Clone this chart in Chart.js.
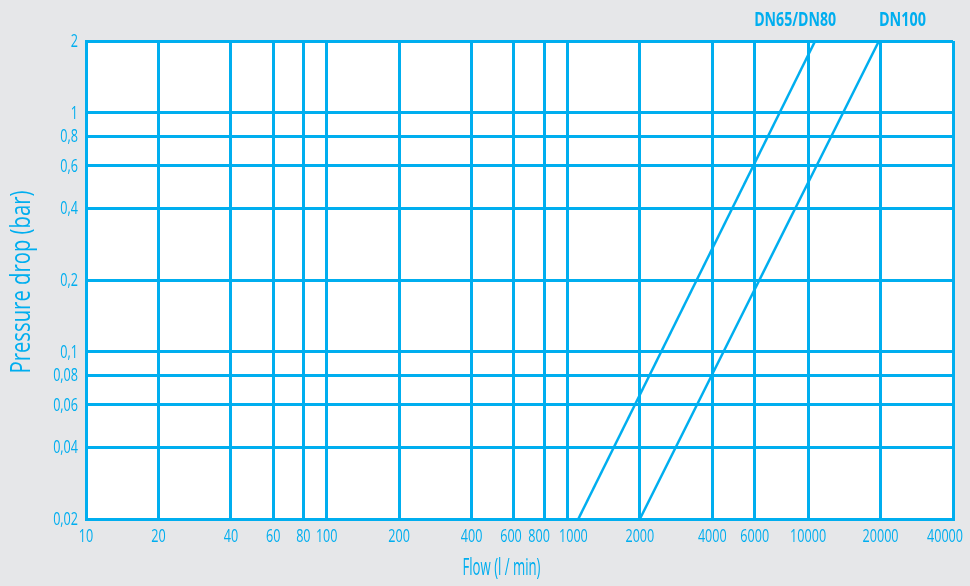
<!DOCTYPE html>
<html>
<head>
<meta charset="utf-8">
<script src="https://cdn.jsdelivr.net/npm/chart.js@4.4.1/dist/chart.umd.min.js"></script>
<style>
  html, body { margin: 0; padding: 0; background: #e6e7e9; }
  #wrap { width: 970px; height: 586px; }
</style>
</head>
<body>
<div id="wrap"><canvas id="chart" width="970" height="586"></canvas></div>
<script>
// tick values of the log grid
const flowTicks = [10, 20, 40, 60, 80, 100, 200, 400, 600, 800, 1000, 2000, 4000, 6000, 10000, 20000, 40000];
const dropTicks = [0.02, 0.04, 0.06, 0.08, 0.1, 0.2, 0.4, 0.6, 0.8, 1, 2];

// end points of each straight line (log-log)
const seriesNames = ['DN65/DN80', 'DN100'];
const flowDN65 = [1110, 10700];
const dropDN65 = [0.02, 2];
const flowDN100 = [2000, 19700];
const dropDN100 = [0.02, 2];

const BLUE = '#00aeef';
const FONT = "'Open Sans', 'Noto Sans', sans-serif";
const SX = 0.7; // the original face is a narrow one, squeeze the text

// small sideways nudges of crowded flow labels
const flowLabelNudge = { 600: -3, 800: -5, 1000: 6, 40000: -8 };

const toPoints = (xs, ys) => xs.map((x, i) => ({ x: x, y: ys[i] }));

function drawText(ctx, text, x, y, font, sx, align, baseline) {
    ctx.save();
    ctx.font = font;
    ctx.textAlign = align;
    ctx.textBaseline = baseline || 'middle';
    ctx.translate(x, y);
    ctx.scale(sx, 1);
    ctx.fillText(text, 0, 0);
    ctx.restore();
}

// squeeze a text so it gets the given width
function fitScale(ctx, text, font, width) {
    ctx.save();
    ctx.font = font;
    const w = ctx.measureText(text).width;
    ctx.restore();
    return width / w;
}

const decorPlugin = {
    id: 'decor',
    beforeDraw(chart) {
        const { ctx, chartArea: a } = chart;
        ctx.save();
        ctx.fillStyle = '#ffffff';
        ctx.fillRect(a.left, a.top, a.right - a.left, a.bottom - a.top);
        ctx.restore();
    },
    afterDraw(chart) {
        const { ctx, chartArea: a } = chart;
        const xs = chart.scales.x;
        const ys = chart.scales.y;
        ctx.save();
        ctx.fillStyle = BLUE;

        // tick labels
        const tickFont = "18px " + FONT;
        flowTicks.forEach(v => {
            const x = xs.getPixelForValue(v) + (flowLabelNudge[v] || 0);
            drawText(ctx, String(v), x, a.bottom + 18, tickFont, SX, 'center');
        });
        dropTicks.forEach(v => {
            const y = ys.getPixelForValue(v);
            drawText(ctx, String(v).replace('.', ','), a.left - 8, y + 1, tickFont, SX, 'right');
        });

        // x title
        const xFont = "24px " + FONT;
        const xt = 'Flow (l / min)';
        drawText(ctx, xt, (a.left + a.right) / 2 - 18, 575, xFont, fitScale(ctx, xt, xFont, 78), 'center', 'alphabetic');

        // y title
        const yFont = "28px " + FONT;
        const yt = 'Pressure drop (bar)';
        ctx.save();
        ctx.translate(30, (a.top + a.bottom) / 2 + 2);
        ctx.rotate(-Math.PI / 2);
        drawText(ctx, yt, 0, 0, yFont, fitScale(ctx, yt, yFont, 183), 'center', 'alphabetic');
        ctx.restore();

        // line names above the top ends
        const nFont = "bold 19.5px " + FONT;
        const top0 = chart.getDatasetMeta(0).data[1];
        const top1 = chart.getDatasetMeta(1).data[1];
        drawText(ctx, seriesNames[0], top0.x - 20, 26, nFont, fitScale(ctx, seriesNames[0], nFont, 82), 'center', 'alphabetic');
        drawText(ctx, seriesNames[1], top1.x, 26, nFont, fitScale(ctx, seriesNames[1], nFont, 47), 'left', 'alphabetic');
        ctx.restore();
    }
};

const ctx = document.getElementById('chart').getContext('2d');
new Chart(ctx, {
    type: 'scatter',
    data: {
        datasets: [
            {
                label: seriesNames[0],
                data: toPoints(flowDN65, dropDN65),
                showLine: true,
                borderColor: BLUE,
                borderWidth: 2.5,
                pointRadius: 0,
            },
            {
                label: seriesNames[1],
                data: toPoints(flowDN100, dropDN100),
                showLine: true,
                borderColor: BLUE,
                borderWidth: 2.5,
                pointRadius: 0,
            },
        ],
    },
    options: {
        responsive: false,
        animation: false,
        devicePixelRatio: 1,
        layout: { padding: { top: 41, right: 17, left: 0, bottom: 0 } },
        plugins: {
            legend: { display: false },
            tooltip: { enabled: false },
        },
        scales: {
            x: {
                type: 'logarithmic',
                min: 10,
                max: 40000,
                afterBuildTicks: (scale) => { scale.ticks = flowTicks.map(v => ({ value: v })); },
                afterFit: (scale) => {
                    scale.height = 67;
                    scale.paddingLeft = 0;
                    scale.paddingRight = 0;
                },
                grid: { color: BLUE, lineWidth: 3, drawTicks: false },
                border: { color: BLUE, width: 3 },
                ticks: { display: false, autoSkip: false },
            },
            y: {
                type: 'logarithmic',
                min: 0.02,
                max: 2,
                afterBuildTicks: (scale) => { scale.ticks = dropTicks.map(v => ({ value: v })); },
                afterFit: (scale) => {
                    scale.width = 86;
                    scale.paddingTop = 0;
                    scale.paddingBottom = 0;
                },
                grid: { color: BLUE, lineWidth: 3, drawTicks: false },
                border: { color: BLUE, width: 3 },
                ticks: { display: false, autoSkip: false },
            },
        },
    },
    plugins: [decorPlugin],
});
</script>
</body>
</html>
